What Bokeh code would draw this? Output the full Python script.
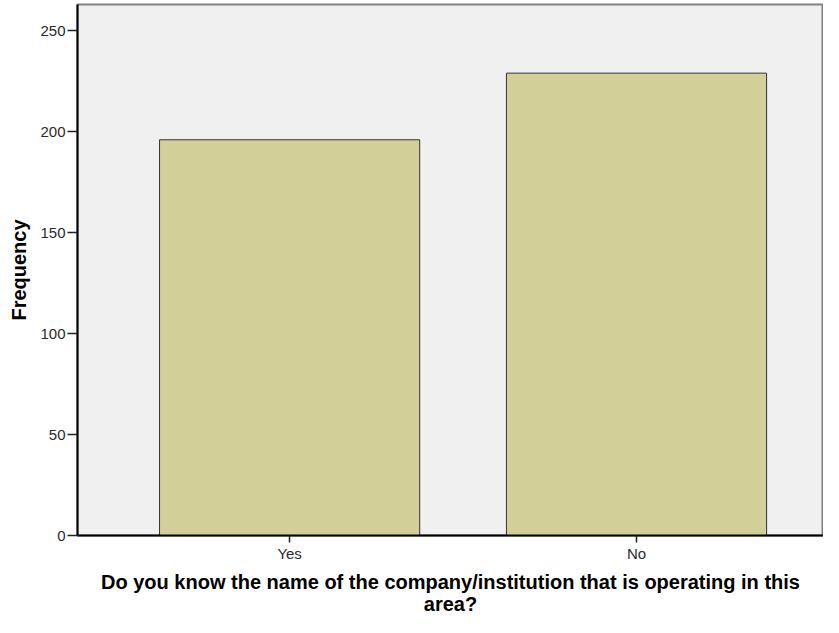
from bokeh.plotting import figure
from bokeh.models import Range1d, FixedTicker
from bokeh.embed import file_html
from bokeh.resources import INLINE

categories = ["Yes", "No"]
frequencies = [196, 229]
y_ticks = [0, 50, 100, 150, 200, 250]

xpos = [i + 0.5 for i in range(len(categories))]

p = figure(width=823, height=617, output_backend="svg", toolbar_location=None,
           x_range=Range1d(-0.1115, 2.039), y_range=Range1d(0, 263))
p.min_border_left = 77
p.min_border_right = 0
p.min_border_top = 4
p.min_border_bottom = 60

p.background_fill_color = "#F0F0F0"
p.border_fill_color = "white"
p.outline_line_color = "#808080"
p.outline_line_width = 2
p.xgrid.visible = False
p.ygrid.visible = False

p.vbar(x=xpos, top=frequencies, width=0.75, bottom=0,
       fill_color="#D3CF98", line_color="#333333", line_width=1)

p.xaxis.ticker = FixedTicker(ticks=xpos)
p.xaxis.major_label_overrides = {x: c for x, c in zip(xpos, categories)}
p.yaxis.ticker = FixedTicker(ticks=y_ticks)

for ax in (p.xaxis[0], p.yaxis[0]):
    ax.axis_line_color = "black"
    ax.axis_line_width = 2
    ax.major_tick_line_color = "#222222"
    ax.major_tick_line_width = 1.5
    ax.major_tick_in = 0
    ax.minor_tick_line_color = None
    ax.major_label_text_font = "Liberation Sans"
    ax.major_label_text_font_size = "15px"
    ax.major_label_text_color = "#2a2a2a"
    ax.axis_label_text_font = "Liberation Sans"
    ax.axis_label_text_font_style = "bold"
    ax.axis_label_text_font_size = "20px"
    ax.axis_label_text_color = "black"
    ax.axis_label_text_line_height = 1.0

p.yaxis.major_tick_out = 10
p.xaxis.major_tick_out = 7
p.yaxis.major_label_standoff = 2
p.xaxis.major_label_standoff = 2
p.yaxis.axis_label = "Frequency"
p.yaxis.axis_label_standoff = 7
p.xaxis.axis_label = "Do you know the name of the company/institution that is operating in this\narea?"
p.xaxis.axis_label_standoff = 6

open("out.html", "w").write(file_html(p, INLINE))
